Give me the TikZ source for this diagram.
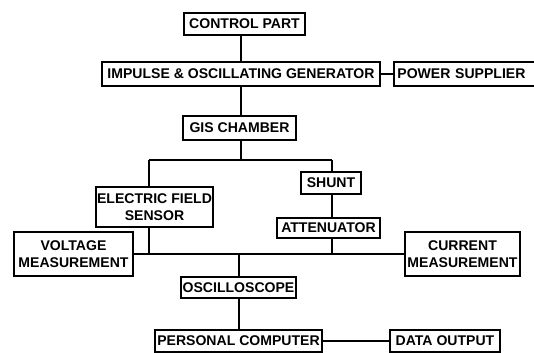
\documentclass[tikz,border=0pt]{standalone}
\usepackage{fontspec}
\setmainfont{Liberation Sans}
\usepackage{tikz}

\begin{document}
\begin{tikzpicture}[x=0.03cm,y=-0.03cm,
  block/.style={rectangle,draw,line width=1.5pt,inner sep=0pt,align=center,
    font=\fontsize{12}{14}\selectfont\bfseries},
  wire/.style={line width=1.5pt}]

\useasboundingbox (0,0) rectangle (534,352);

\node[block,minimum width=3.63cm,minimum height=0.66cm] (ctrl) at (244.5,24) {CONTROL PART};
\node[block,minimum width=8.34cm,minimum height=0.72cm] (gen) at (241,74) {IMPULSE \& OSCILLATING GENERATOR};
\node[block,minimum height=0.72cm,anchor=west,text width=4.4cm,inner xsep=3pt,align=left] (pwr) at (393,74) {POWER SUPPLIER};
\node[block,minimum width=3.39cm,minimum height=0.72cm] (gis) at (239.5,128) {GIS CHAMBER};
\node[block,minimum width=1.8cm,minimum height=0.66cm] (shunt) at (331,183) {SHUNT};
\node[block,minimum width=3.51cm,minimum height=1.2cm] (efs) at (154.5,207) {ELECTRIC FIELD\\SENSOR};
\node[block,minimum width=3.09cm,minimum height=0.6cm] (att) at (328.5,228) {ATTENUATOR};
\node[block,minimum width=3.57cm,minimum height=1.32cm] (volt) at (73.5,254) {VOLTAGE\\MEASUREMENT};
\node[block,minimum width=3.45cm,minimum height=1.32cm] (curr) at (462.5,254) {CURRENT\\MEASUREMENT};
\node[block,minimum width=3.45cm,minimum height=0.63cm] (osc) at (238.5,287.5) {OSCILLOSCOPE};
\node[block,minimum width=5.01cm,minimum height=0.66cm] (pc) at (238.5,341) {PERSONAL COMPUTER};
\node[block,minimum width=3.3cm,minimum height=0.66cm] (out) at (445,341) {DATA OUTPUT};

\coordinate (split) at (241,160);
\coordinate (lft) at (149,160);
\coordinate (rgt) at (332,160);
\coordinate (bus) at (239,254);

 \path[draw, wire]
(ctrl.south -| gen.north) edge (gen.north)
(gen) edge (pwr)
(gen.south) edge (gis.north -| gen.south)
(gis.south -| split) edge (split)
(lft) edge (rgt)
(lft) edge (efs.north -| lft)
(rgt) edge (shunt.north -| rgt)
(shunt.south -| rgt) edge (att.north -| rgt)
(volt) edge (curr)
(efs.south -| lft) edge (lft |- volt)
(att.south -| rgt) edge (rgt |- volt)
(bus) edge (osc.north -| bus)
(osc.south -| bus) edge (pc.north -| bus)
(pc) edge (out)
;

\end{tikzpicture}
\end{document}
